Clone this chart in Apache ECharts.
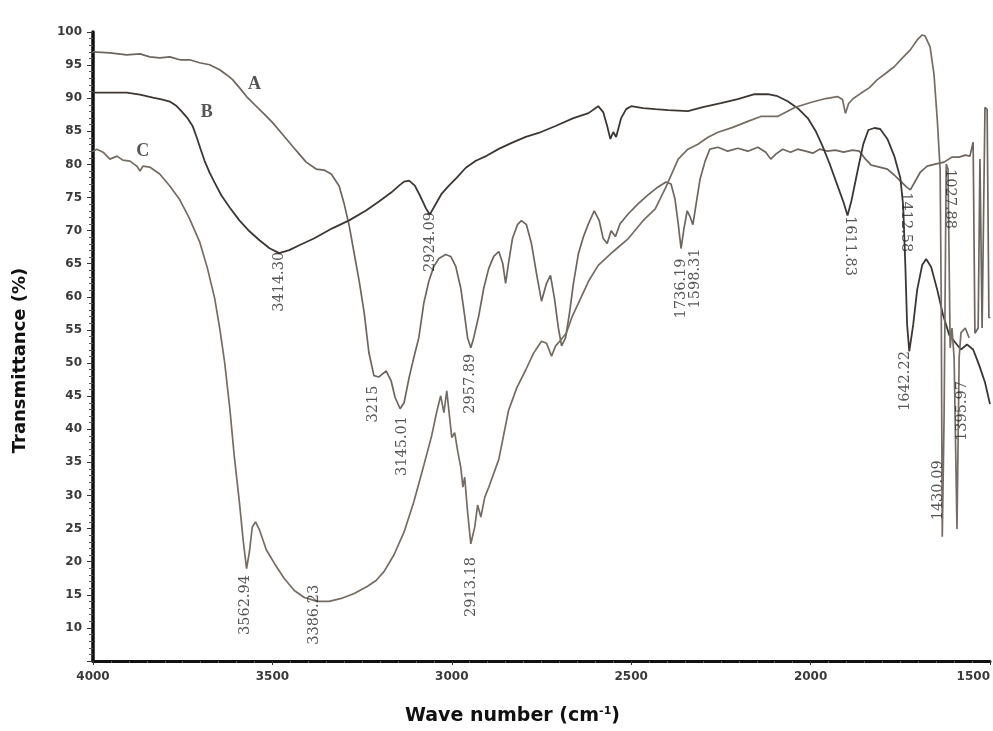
<!DOCTYPE html>
<html>
<head>
<meta charset="utf-8">
<script src="https://cdn.jsdelivr.net/npm/echarts@6/dist/echarts.min.js"></script>
<style>
html,body{margin:0;padding:0;background:#ffffff;}
#chart{width:993px;height:731px;}
</style>
</head>
<body>
<div id="chart"></div>
<script>
// Axis ticks
var xTicks = [4000, 3500, 3000, 2500, 2000, 1500];
var yTicks = [10, 15, 20, 25, 30, 35, 40, 45, 50, 55, 60, 65, 70, 75, 80, 85, 90, 95, 100];

// Curve A  [wave number, transmittance %]
var curveA = [
 [4000,97.0],[3953,96.85],[3906,96.55],[3869,96.7],[3842,96.25],[3814,96.1],[3786,96.25],[3758,95.8],[3731,95.8],
 [3703,95.35],[3675,95.05],[3647,94.3],[3628,93.55],[3611,92.8],[3592,91.6],[3572,90.25],[3550,89.05],[3522,87.55],
 [3500,86.35],[3472,84.55],[3444,82.75],[3425,81.55],[3406,80.35],[3378,79.3],[3356,79.15],[3336,78.55],[3314,76.75],
 [3300,74.05],[3286,70.75],[3272,66.55],[3258,62.35],[3244,57.55],[3231,51.55],[3217,48.1],[3203,47.9],[3183,48.8],
 [3169,47.3],[3158,44.8],[3144,43.1],[3133,44.0],[3119,47.8],[3106,50.8],[3092,53.8],[3078,59.05],[3064,62.35],
 [3050,64.6],[3036,65.8],[3017,66.4],[3003,66.1],[2989,64.6],[2975,61.3],[2964,57.1],[2956,53.8],[2947,52.3],
 [2939,53.8],[2925,57.1],[2911,61.3],[2897,64.3],[2883,66.1],[2869,66.85],[2858,65.05],[2850,62.05],[2842,65.05],
 [2831,68.8],[2817,70.9],[2806,71.5],[2792,70.9],[2778,68.05],[2764,63.55],[2750,59.35],[2736,62.05],[2725,63.25],
 [2714,59.8],[2703,55.3],[2694,52.6],[2683,53.8],[2672,57.55],[2661,62.05],[2647,66.55],[2633,69.1],[2619,71.05],
 [2603,73.0],[2589,71.5],[2578,68.8],[2567,68.05],[2556,70.0],[2544,69.1],[2531,71.05],[2508,72.55],[2481,74.05],
 [2453,75.4],[2425,76.6],[2403,77.35],[2389,77.05],[2378,74.8],[2369,71.05],[2361,67.3],[2353,70.3],[2344,73.0],
 [2336,72.1],[2328,70.9],[2319,74.05],[2308,77.8],[2294,80.5],[2281,82.3],[2258,82.6],[2231,82.0],[2203,82.45],
 [2175,82.0],[2147,82.6],[2125,81.85],[2111,80.8],[2097,81.55],[2078,82.3],[2056,81.85],[2036,82.3],[2014,82.0],
 [1994,81.7],[1975,82.3],[1953,82.0],[1931,82.15],[1908,81.85],[1883,82.15],[1864,82.0],[1847,80.8],[1831,79.9],
 [1808,79.6],[1786,79.3],[1767,78.4],[1750,77.5],[1733,76.6],[1722,76.15],[1708,77.5],[1694,78.85],[1675,79.75],
 [1653,80.05],[1628,80.35],[1606,81.1],[1586,81.1],[1569,81.4],[1556,81.25],[1547,83.35],[1542,54.5],[1533,55.3],
 [1528,80.8],[1522,55.3],[1514,88.6],[1508,88.3],[1503,56.8],[1500,57.0]
];

// Curve B
var curveB = [
 [4000,90.85],[3953,90.85],[3906,90.85],[3869,90.55],[3833,90.1],[3806,89.8],[3786,89.5],[3769,88.9],[3753,88.0],
 [3736,86.95],[3722,85.75],[3711,84.1],[3700,82.3],[3689,80.55],[3675,78.75],[3661,77.25],[3642,75.3],[3619,73.5],
 [3592,71.55],[3564,69.9],[3536,68.55],[3508,67.35],[3481,66.6],[3453,67.05],[3425,67.8],[3383,68.85],[3333,70.35],
 [3286,71.55],[3239,73.05],[3203,74.4],[3169,75.75],[3147,76.8],[3133,77.4],[3119,77.55],[3103,76.8],[3086,75.0],
 [3072,73.35],[3061,72.45],[3047,73.8],[3028,75.6],[3008,76.8],[2986,78.0],[2961,79.5],[2933,80.55],[2903,81.3],
 [2869,82.35],[2833,83.25],[2794,84.15],[2758,84.75],[2711,85.8],[2661,87.0],[2619,87.75],[2592,88.8],[2578,87.9],
 [2567,85.8],[2558,83.85],[2550,84.9],[2542,84.15],[2528,87.0],[2514,88.35],[2500,88.8],[2467,88.5],[2433,88.35],
 [2397,88.2],[2342,88.05],[2300,88.65],[2250,89.25],[2203,89.85],[2156,90.6],[2119,90.6],[2092,90.3],[2064,89.55],
 [2036,88.5],[2008,87.0],[1986,85.05],[1967,82.8],[1947,80.1],[1925,76.8],[1908,74.25],[1897,72.3],[1886,74.55],
 [1869,79.05],[1853,83.1],[1839,85.2],[1822,85.5],[1806,85.35],[1786,83.85],[1767,81.3],[1750,78.0],[1742,73.8],
 [1736,64.8],[1731,55.8],[1725,51.75],[1714,55.8],[1703,61.05],[1689,64.8],[1678,65.7],[1664,64.5],[1647,61.05],
 [1631,57.3],[1614,54.3],[1597,53.1],[1581,52.05],[1564,52.8],[1547,52.05],[1531,49.8],[1514,47.1],[1500,43.8]
];

// Curve C
var curveC = [
 [4000,82.0],[3989,82.3],[3972,81.85],[3953,80.8],[3933,81.25],[3917,80.65],[3897,80.5],[3878,79.75],[3869,79.0],
 [3861,79.75],[3842,79.6],[3814,78.55],[3786,76.75],[3758,74.65],[3731,71.8],[3703,68.35],[3681,64.3],[3661,59.8],
 [3647,55.3],[3633,50.05],[3619,43.3],[3606,35.8],[3592,29.0],[3581,23.0],[3572,18.95],[3564,21.5],[3556,25.25],
 [3547,26.0],[3536,24.8],[3517,21.8],[3494,19.7],[3467,17.45],[3439,15.65],[3411,14.6],[3375,14.0],[3342,14.0],
 [3308,14.45],[3272,15.2],[3236,16.25],[3211,17.15],[3189,18.5],[3161,21.05],[3133,24.5],[3106,29.0],[3078,34.55],
 [3056,39.05],[3042,42.65],[3031,45.05],[3022,42.5],[3014,45.8],[3006,41.75],[3000,38.75],[2992,39.5],[2983,36.5],
 [2975,34.25],[2969,31.25],[2964,32.75],[2956,27.5],[2947,22.7],[2936,25.25],[2928,28.55],[2919,26.75],[2908,29.75],
 [2897,31.25],[2869,35.45],[2842,42.8],[2819,46.25],[2794,48.95],[2772,51.5],[2750,53.3],[2736,53.0],[2722,51.05],
 [2711,52.55],[2697,53.45],[2681,54.5],[2664,57.1],[2647,59.05],[2619,62.35],[2592,64.75],[2550,66.85],[2508,68.8],
 [2467,71.5],[2433,73.3],[2403,76.6],[2369,80.8],[2342,82.3],[2314,83.05],[2286,84.1],[2258,84.85],[2217,85.6],
 [2175,86.5],[2139,87.25],[2092,87.25],[2044,88.6],[2000,89.35],[1958,89.95],[1925,90.25],[1911,89.8],[1903,87.7],
 [1894,89.2],[1881,89.95],[1861,90.7],[1836,91.6],[1814,92.8],[1792,93.7],[1767,94.75],[1744,96.1],[1722,97.3],
 [1703,98.8],[1689,99.55],[1681,99.4],[1667,97.75],[1656,93.55],[1647,86.8],[1639,79.3],[1636,59.8],[1633,23.75],
 [1628,41.75],[1622,80.05],[1617,79.3],[1611,52.3],[1606,55.3],[1600,50.8],[1592,24.95],[1586,50.8],[1581,54.55],
 [1569,55.3],[1558,53.8]
];

// Peak annotations: text, wave number, transmittance (top of label), rotation
var peakText = ['3562.94','3386.23','2913.18','3215','3145.01','2957.89','3414.30','2924.09','1736.19','1598.31','1611.83','1412.58','1027.88','1642.22','1430.09','1395.97'];
var peakWave = [3575,3383,2947,3219,3139,2950,3481,3061,2361,2322,1892,1736,1611,1736,1644,1578];
var peakT    = [18.0,16.5,20.7,46.6,42.0,51.4,66.8,72.8,65.8,67.3,72.2,75.8,79.3,51.8,35.3,47.3];
var peakRot  = [90,90,90,90,90,90,90,90,90,90,-90,-90,-90,90,90,90];

// Curve names
var curveNames = ['A','B','C'];
var curveNameWave = [3550,3683,3861];
var curveNameT = [92.1,87.9,81.9];

var chart = echarts.init(document.getElementById('chart'), null, {renderer:'canvas'});

var peakData = peakText.map(function(t, i){
  var r = peakRot[i];
  return {
    value: [peakWave[i], peakT[i]],
    name: t,
    label: { rotate: r, align: r > 0 ? 'right' : 'left', verticalAlign: 'middle' }
  };
});
var nameData = curveNames.map(function(t, i){
  return { value: [curveNameWave[i], curveNameT[i]], name: t };
});

var lineCommon = { type:'line', showSymbol:false, symbol:'none', animation:false, smooth:false, z:3 };

var option = {
  backgroundColor:'#ffffff',
  animation:false,
  grid:{ left:93, right:0, top:32, bottom:66, containLabel:false },
  xAxis:{
    type:'value', min:1500, max:4000, interval:500, inverse:true,
    axisLine:{ show:true, lineStyle:{ color:'#111', width:3 } },
    axisTick:{ show:true, length:4, lineStyle:{ color:'#333', width:1 } },
    minorTick:{ show:true, splitNumber:10, length:2, lineStyle:{ color:'#555', width:1 } },
    splitLine:{ show:false },
    axisLabel:{ color:'#3a3a3a', fontFamily:'DejaVu Sans', fontWeight:'bold', fontSize:12, margin:10, alignMinLabel:'right',
      formatter:function(v){ return xTicks.indexOf(v) >= 0 ? String(v) : ''; } },
    name:'Wave number (cm{sup|-1})', nameLocation:'middle', nameGap:45,
    nameTextStyle:{ color:'#111', fontFamily:'DejaVu Sans', fontWeight:'bold', fontSize:19, padding:[0,58,0,0],
      rich:{ sup:{ fontSize:11, fontFamily:'DejaVu Sans', fontWeight:'bold', color:'#111', verticalAlign:'top', padding:[0,0,10,0] } } }
  },
  yAxis:{
    type:'value', min:5, max:100, interval:5,
    axisLine:{ show:true, lineStyle:{ color:'#111', width:3.5 } },
    axisTick:{ show:true, length:6, lineStyle:{ color:'#333', width:1 } },
    minorTick:{ show:true, splitNumber:5, length:4, lineStyle:{ color:'#555', width:1 } },
    splitLine:{ show:false },
    axisLabel:{ color:'#3a3a3a', fontFamily:'DejaVu Sans', fontWeight:'bold', fontSize:12, margin:11,
      formatter:function(v){ return yTicks.indexOf(v) >= 0 ? String(v) : ''; } },
    name:'Transmittance (%)', nameLocation:'middle', nameGap:64, nameRotate:90,
    nameTextStyle:{ color:'#111', fontFamily:'DejaVu Sans', fontWeight:'bold', fontSize:18, padding:[0,28,0,0] }
  },
  series:[
    Object.assign({ name:'A', data:curveA, lineStyle:{ color:'#6e665e', width:1.7 } }, lineCommon),
    Object.assign({ name:'B', data:curveB, lineStyle:{ color:'#3d3733', width:1.8 } }, lineCommon),
    Object.assign({ name:'C', data:curveC, lineStyle:{ color:'#756c63', width:1.7 } }, lineCommon),
    {
      type:'scatter', data:peakData, symbolSize:1, itemStyle:{ color:'rgba(0,0,0,0)' }, z:5, animation:false, silent:true,
      label:{ show:true, position:'inside', formatter:function(p){ return p.name; },
        fontFamily:'DejaVu Serif', fontSize:14.5, color:'#2a2a2a' }
    },
    {
      type:'scatter', data:nameData, symbolSize:1, itemStyle:{ color:'rgba(0,0,0,0)' }, z:5, animation:false, silent:true,
      label:{ show:true, position:'inside', formatter:function(p){ return p.name; },
        fontFamily:'Liberation Serif', fontWeight:'bold', fontSize:18, color:'#2a2a2a' }
    }
  ]
};
chart.setOption(option);
</script>
</body>
</html>
